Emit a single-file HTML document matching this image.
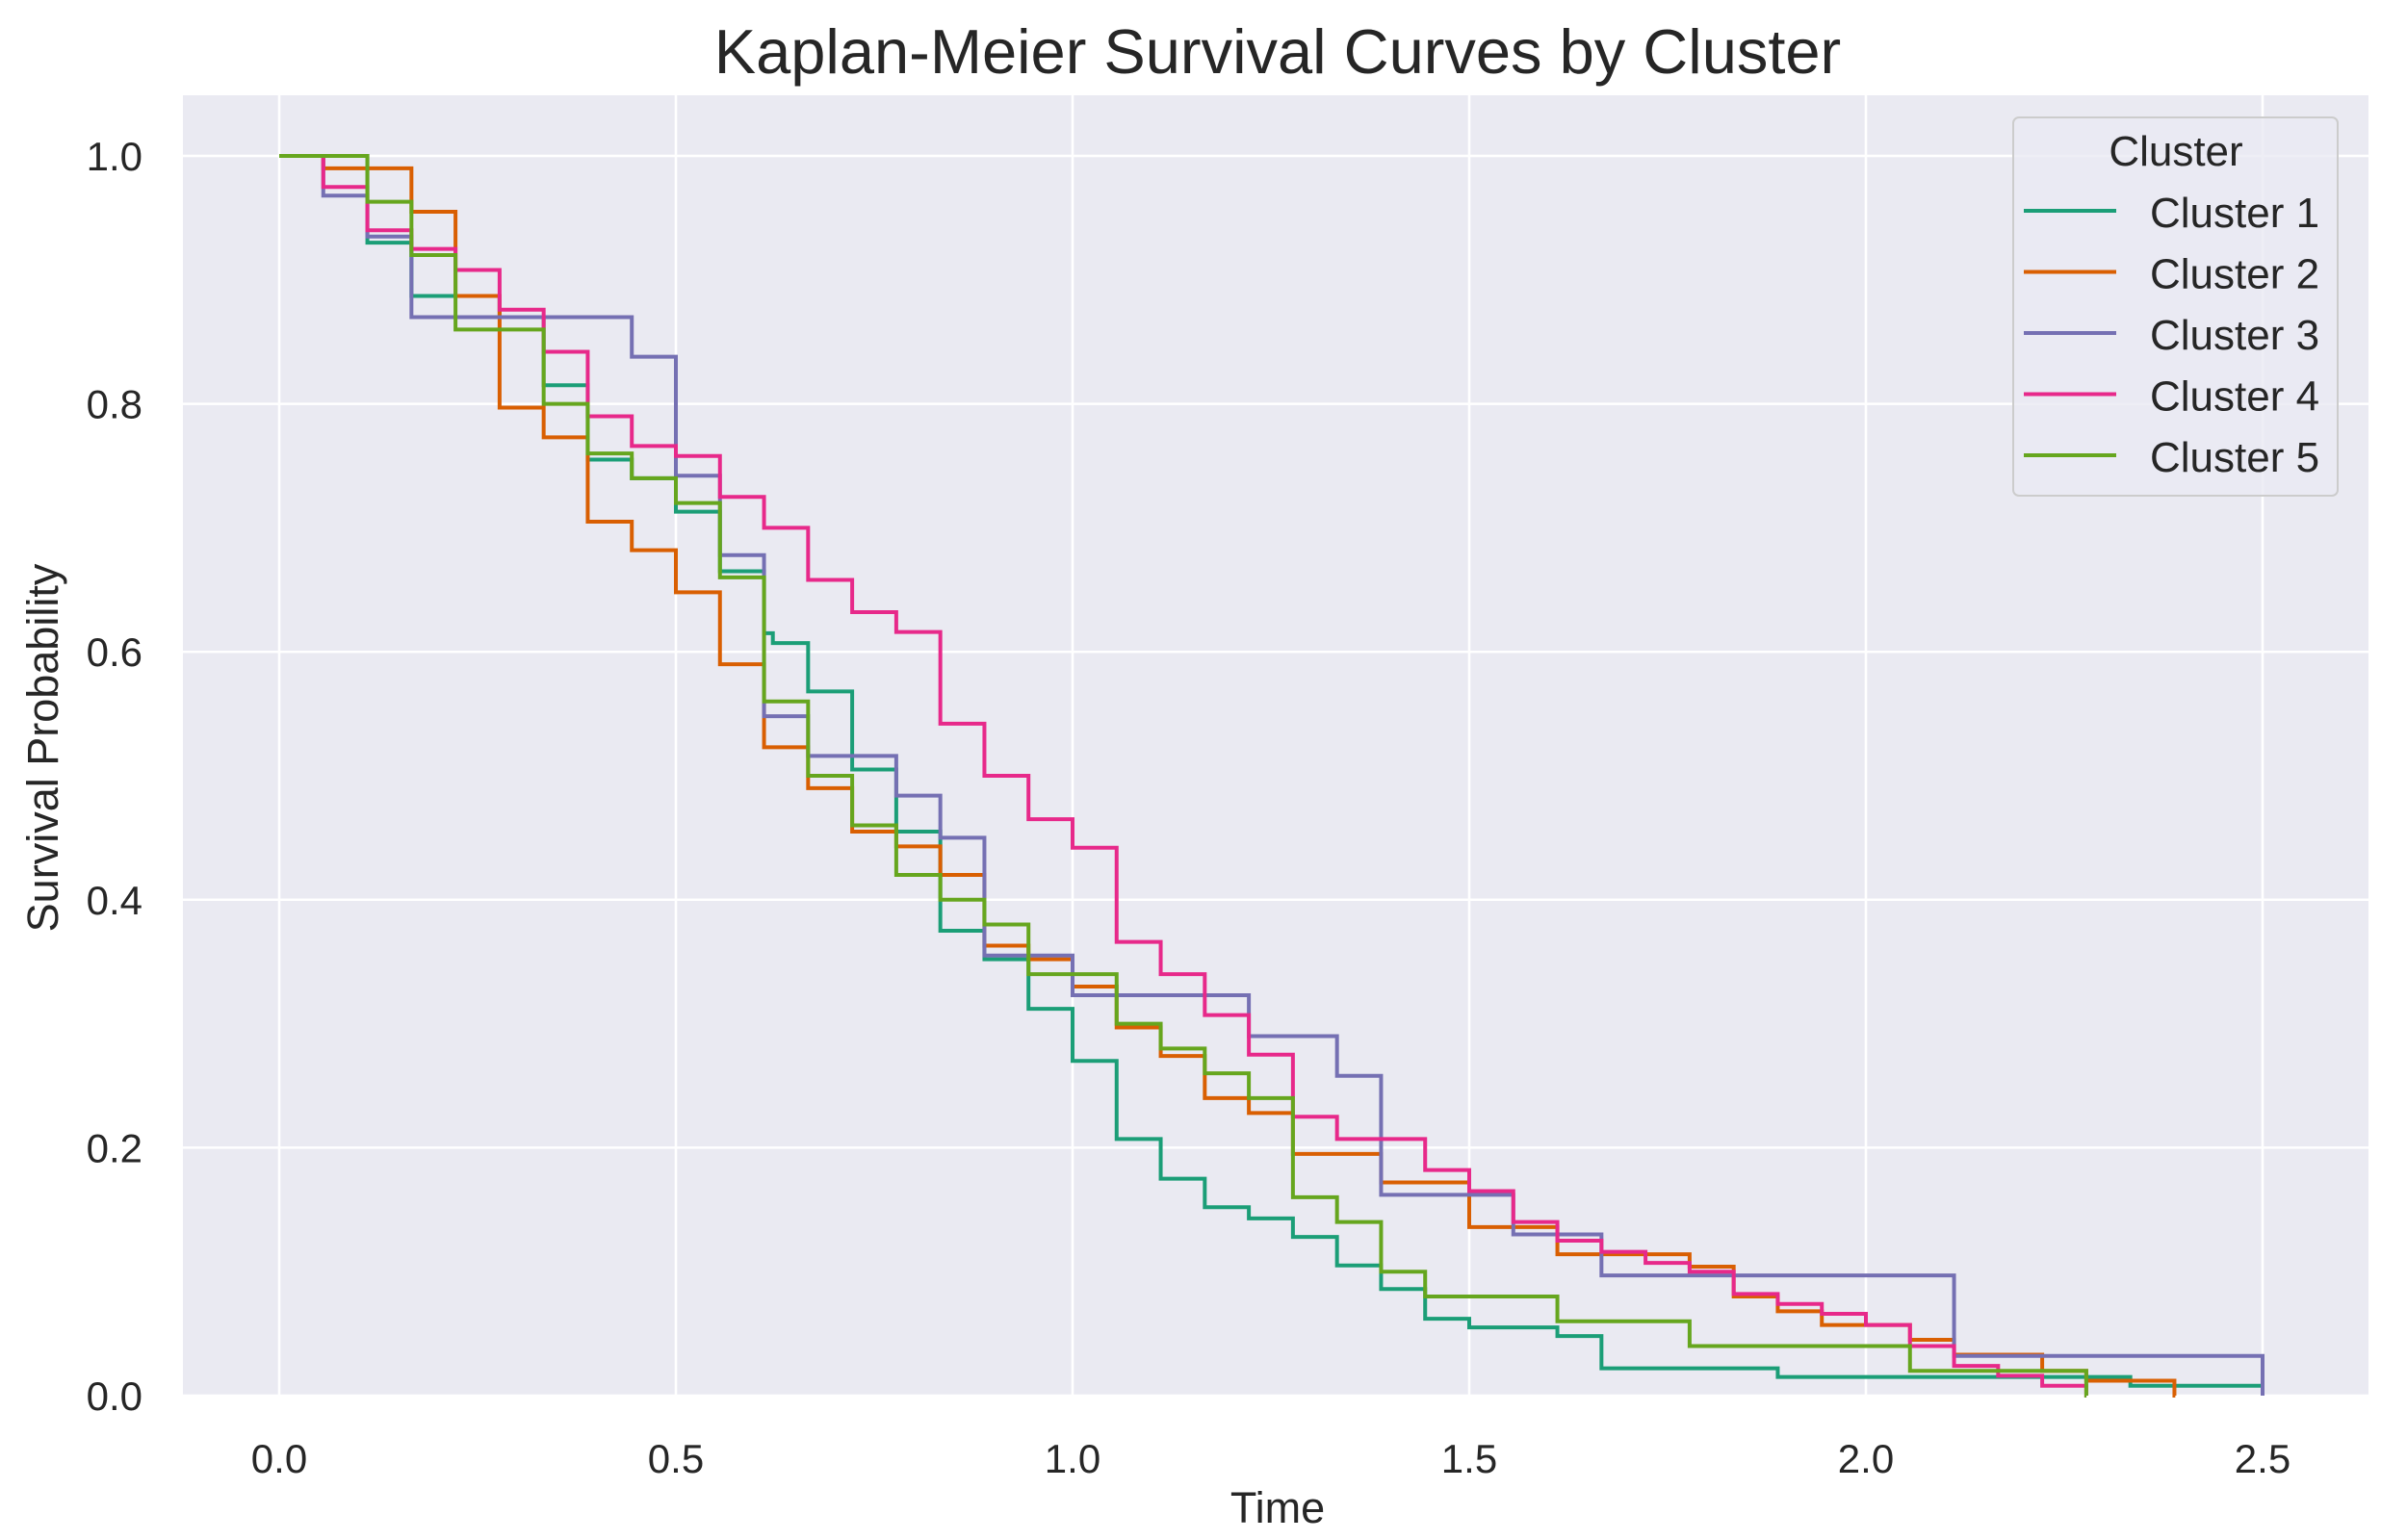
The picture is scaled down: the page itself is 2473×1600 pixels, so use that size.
<!DOCTYPE html>
<html><head><meta charset="utf-8"><style>
html,body{margin:0;padding:0;background:#fff;}
svg{display:block;font-family:"Liberation Sans",Arial,sans-serif;}
</style></head><body>
<svg id="chart" width="2473" height="1600" viewBox="0 0 2473 1600">
<rect x="0" y="0" width="2473" height="1600" fill="#fff"/>
<text x="1327" y="76" font-size="65" text-anchor="middle" fill="#262626">Kaplan-Meier Survival Curves by Cluster</text>
<rect x="190" y="99" width="2270" height="1351" fill="#eaeaf2"/>
<g id="grid"></g>
<g id="ticks"></g>
<g id="series"></g>
<text x="1327" y="1582" font-size="45" text-anchor="middle" fill="#262626">Time</text>
<text transform="translate(60,777) rotate(-90)" font-size="45" text-anchor="middle" fill="#262626">Survival Probability</text>
<g id="legend"></g>
</svg>
<script>
const names=["Cluster 1","Cluster 2","Cluster 3","Cluster 4","Cluster 5"];
const colors=["#1b9e77","#d95f02","#7570b3","#e7298a","#66a61e"];
const xTicks=[0,0.5,1.0,1.5,2.0,2.5];
const yTicks=[0,0.2,0.4,0.6,0.8,1.0];
const k=1/18;
const t1=[0,2,3,5,6,7,8,9,10,11,11.2,12,13,14,15,16,17,18,19,20,21,22,23,24,25,26,27,29,30,34,42];
const s1=[1,0.93,0.887,0.87,0.815,0.755,0.74,0.713,0.665,0.615,0.607,0.568,0.505,0.455,0.375,0.352,0.312,0.27,0.207,0.175,0.152,0.143,0.128,0.105,0.086,0.062,0.055,0.048,0.022,0.015,0.008];
const t2=[0,1,3,4,5,6,7,8,9,10,11,12,13,14,15,16,17,18,19,20,21,22,23,25,27,29,32,33,34,35,37,38,40,41,43];
const s2=[1,0.99,0.955,0.887,0.797,0.773,0.705,0.682,0.648,0.59,0.523,0.49,0.455,0.443,0.42,0.363,0.352,0.33,0.297,0.274,0.24,0.228,0.195,0.172,0.136,0.114,0.104,0.08,0.068,0.057,0.045,0.033,0.02,0.012,0];
const t3=[0,1,2,3,8,9,10,11,12,14,15,16,18,22,24,25,28,30,38,45];
const s3=[1,0.968,0.935,0.87,0.838,0.742,0.678,0.548,0.516,0.484,0.45,0.355,0.323,0.29,0.258,0.162,0.13,0.097,0.032,0];
const t4=[0,1,2,3,4,5,6,7,8,9,10,11,12,13,14,15,16,17,18,19,20,21,22,23,24,26,27,28,29,30,31,32,33,34,35,36,37,38,39,40,41];
const s4=[1,0.975,0.94,0.925,0.908,0.876,0.842,0.79,0.766,0.758,0.725,0.70,0.658,0.632,0.616,0.542,0.5,0.465,0.442,0.366,0.34,0.307,0.275,0.225,0.207,0.182,0.165,0.14,0.125,0.116,0.107,0.10,0.082,0.074,0.066,0.057,0.04,0.024,0.016,0.008,0];
const t5=[0,2,3,4,6,7,8,9,10,11,12,13,14,15,16,17,19,20,21,22,23,24,25,26,29,32,37,41];
const s5=[1,0.963,0.92,0.86,0.80,0.76,0.74,0.72,0.66,0.56,0.50,0.46,0.42,0.40,0.38,0.34,0.30,0.28,0.26,0.24,0.16,0.14,0.10,0.08,0.06,0.04,0.02,0];
const ends=[2.5,2.39,2.5,2.278,2.278];
const T=[t1,t2,t3,t4,t5], S=[s1,s2,s3,s4,s5];
const NS="http://www.w3.org/2000/svg";
function X(t){return 290+824*t;}
function Y(s){return 1450-1288*s;}
function el(tag,attrs,parent){const e=document.createElementNS(NS,tag);for(const a in attrs)e.setAttribute(a,attrs[a]);parent.appendChild(e);return e;}
const grid=document.getElementById('grid'),ticks=document.getElementById('ticks'),series=document.getElementById('series'),legend=document.getElementById('legend');
xTicks.forEach(v=>{
 const l=el('line',{x1:X(v),x2:X(v),y1:99,y2:1450,stroke:'#fff','stroke-width':2.5},grid);
 
 
 const t=el('text',{x:X(v),y:1530,'font-size':42,'text-anchor':'middle',fill:'#262626'},ticks);
 t.textContent=v.toFixed(1);
 
 
});
yTicks.forEach(v=>{
 const l=el('line',{x1:190,x2:2460,y1:Y(v),y2:Y(v),stroke:'#fff','stroke-width':2.5},grid);
 
 
 const t=el('text',{x:148,y:Y(v)+15,'font-size':42,'text-anchor':'end',fill:'#262626'},ticks);
 t.textContent=v.toFixed(1);
 
 
});
T.forEach((tt,i)=>{
 const ss=S[i];let d='M'+X(tt[0]*k)+','+Y(ss[0]);
 for(let j=1;j<tt.length;j++){d+=' H'+X(tt[j]*k)+' V'+Y(ss[j]);}
 d+=' H'+X(ends[i]);
 const p=el('path',{d:d,fill:'none',stroke:colors[i],'stroke-width':4},series);
 
 
});
const box=el('rect',{x:2091,y:122,width:337,height:393,rx:6,fill:'#eaeaf2','fill-opacity':0.8,stroke:'#cccccc','stroke-width':2},legend);


const lt=el('text',{x:2260,y:172,'font-size':44,'text-anchor':'middle',fill:'#262626'},legend);
lt.textContent='Cluster';


names.forEach((n,i)=>{
 const y=219+63.5*i;
 const g=el('g',{},legend);
 
 
 el('line',{x1:2102,x2:2198,y1:y,y2:y,stroke:colors[i],'stroke-width':4},g);
 const t=el('text',{x:2233,y:y+17,'font-size':44,fill:'#262626'},g);
 t.textContent=n;
});
</script>
</body></html>
